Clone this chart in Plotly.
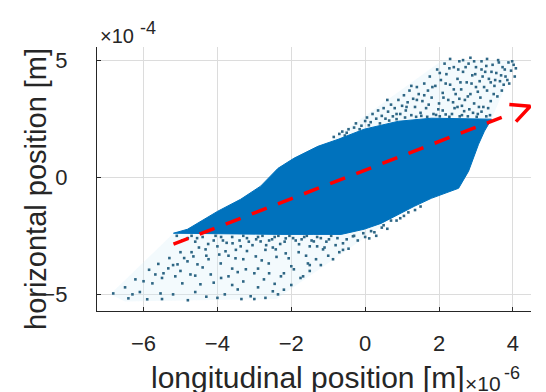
import math
import plotly.graph_objects as go

# Axis units: longitudinal in 1e-6 m, horizontal in 1e-4 m
x_range = [-7.26, 4.49]
y_range = [-5.71, 5.56]
x_ticks = [-6, -4, -2, 0, 2, 4]
y_ticks = [-5, 0, 5]

# Outline of the dense particle core
core_x = [-5.19, -4.81, -3.99, -3.37, -2.83, -2.36, -1.93, -1.28, -0.73, -0.03,
          0.90, 1.79, 3.42, 3.23, 3.07, 2.93, 2.80, 2.53, 1.79, 1.33, 0.90,
          0.43, -0.03, -0.65, -1.39, -2.28, -5.19]
core_y = [-2.39, -2.22, -1.45, -0.94, -0.38, 0.38, 0.81, 1.32, 1.62, 2.05,
          2.39, 2.52, 2.48, 1.97, 1.41, 0.81, 0.26, -0.47, -0.90, -1.24, -1.58,
          -1.97, -2.22, -2.44, -2.44, -2.44, -2.39]

# Halo regions around the sparse tails
halo_up_x = [-0.9, 2.1, 4.1, 3.42, 1.79, 0.90, -0.03, -0.73, -0.9]
halo_up_y = [1.6, 5.0, 5.0, 2.48, 2.52, 2.39, 2.05, 1.62, 1.6]
halo_lo_x = [-5.19, -6.9, -6.5, -2.4, 0.7, 1.8, -0.03, -5.19]
halo_lo_y = [-2.39, -5.0, -5.3, -5.2, -1.8, -0.9, -2.22, -2.39]

# Sparse particles above the core
tail_up_x = [-0.85, -0.7, -0.62, -0.5, -0.45, -0.3, -0.25, -0.1, 0.0, 0.05, 0.15, 0.2,
             0.3, 0.35, 0.45, 0.5, 0.55, 0.62, 0.7, 0.75, 0.8, 0.9, 0.95, 1.0, 1.05,
             1.1, 1.15, 1.2, 1.25, 1.3, 1.35, 1.4, 1.45, 1.5, 1.55, 1.6, 1.65, 1.7,
             1.75, 1.8, 1.85, 1.9, 1.95, 2.0, 2.05, 2.1, 2.1, 2.15, 2.2, 2.25, 2.3,
             2.35, 2.4, 2.45, 2.5, 2.5, 2.55, 2.6, 2.62, 2.65, 2.7, 2.75, 2.8, 2.82,
             2.85, 2.9, 2.95, 3.0, 3.0, 3.05, 3.1, 3.12, 3.15, 3.2, 3.25, 3.3, 3.35,
             3.38, 3.4, 3.45, 3.5, 3.55, 3.58, 3.6, 3.65, 3.7, 3.72, 3.8, 3.75, 3.88,
             3.9, 3.95, 4.02, 4.05, 2.3, 2.85, 1.25, 0.6, 3.3,
             1.52, 1.68, 1.92, 2.02, 2.18, 2.28, 2.42, 2.56, 2.68, 2.78, 2.92, 3.02,
             3.15, 3.28, 3.33, 3.08, 2.55, 2.38, 1.98, 1.72, 1.38, 1.08, 0.85, 0.65,
             0.4, 0.1, -0.15, -0.55, 1.82, 2.02, 2.18, 2.28, 2.4, 2.52, 2.58, 2.72,
             2.78, 2.88, 2.98, 3.05, 3.18, 3.22, 3.28, 3.42, 3.48, 3.52, 3.62, 3.68,
             3.78, 3.85, 3.98, 4.08, 2.65, 2.95, 3.15, 3.4, 1.6, 1.4, 1.12, 0.85,
             2.12, 2.62]
tail_up_y = [1.72, 1.85, 1.95, 1.9, 2.05, 2.12, 2.3, 2.2, 2.4, 2.55, 2.35, 2.7,
             2.5, 2.85, 2.62, 2.95, 2.5, 2.8, 3.1, 2.6, 2.95, 3.3, 2.7, 3.05, 3.5,
             2.85, 3.2, 3.7, 2.65, 3.35, 3.0, 3.85, 3.55, 2.75, 3.25, 4.0, 2.95, 3.7,
             4.3, 3.4, 2.7, 3.9, 4.6, 3.15, 4.15, 2.85, 3.6, 4.85, 4.4, 3.3, 3.95,
             2.7, 4.7, 3.55, 4.2, 3.0, 4.95, 3.75, 2.65, 4.5, 3.3, 4.05, 4.85, 2.9,
             3.55, 4.35, 3.15, 4.7, 3.85, 2.7, 4.1, 3.4, 4.95, 3.0, 4.5, 3.7, 4.2,
             2.65, 3.25, 4.8, 3.9, 4.45, 3.45, 5.0, 4.1, 3.7, 4.7, 4.3, 3.95, 4.9,
             4.0, 4.55, 4.8, 4.3, 5.05, 5.1, 3.9, 3.3, 5.05,
             2.62, 2.58, 2.66, 2.6, 2.68, 2.58, 2.95, 2.6, 2.82, 2.6, 2.75, 2.58,
             2.8, 2.6, 2.95, 3.0, 3.35, 3.2, 2.9, 3.1, 2.58, 2.55, 2.48, 2.42,
             2.3, 2.22, 2.05, 1.78, 3.85, 4.45, 4.0, 4.65, 3.75, 4.6, 4.05, 4.7,
             3.45, 4.0, 4.4, 3.65, 4.3, 3.85, 4.75, 4.5, 3.55, 4.15, 4.9, 4.35,
             4.6, 4.15, 4.95, 4.65, 5.0, 4.95, 4.6, 4.05, 3.5, 3.3, 3.0, 2.7,
             3.4, 3.05]

# Sparse particles below the core
tail_lo_x = [-6.82, -6.41, -6.22, -6.0, -5.9, -5.76, -5.68, -5.54, -5.46, -5.33,
             -5.14, -5.08, -4.95, -4.81, -4.73, -4.65, -4.54, -4.46, -4.32, -4.24,
             -4.18, -4.0, -3.91, -3.78, -3.7, -3.59, -3.51, -3.45, -3.37, -3.23,
             -3.1, -2.96, -2.83, -2.74, -2.61, -2.5, -2.42, -2.36, -2.28, -2.15,
             -2.07, -1.93, -1.79, -1.68, -1.55, -1.39, -1.33, -1.14, -0.98, -0.87,
             -0.6, -0.33, -0.05, 0.11, 0.16, 0.45, 0.7, 0.95, 1.17, 1.5, 0.3, 0.6,
             -0.2, -0.45, -0.7, -1.0, -1.2, -1.5, -1.75, -2.0, -2.2, -4.8, -4.6,
             -4.4, -4.1, -3.9, -3.75, -3.2, -3.05, -2.9, -2.6, -2.45, -2.3, -1.95,
             -1.65, -1.5, -1.2, -0.8, -2.7, -3.5, -4.5, -5.0, -5.3, -3.3, -2.4,
             -1.8, -1.1, -3.95, -4.4, -3.6, -3.0, -2.6, -2.0, -5.0, -4.1, -3.3,
             -2.9, -3.8, -4.3, -5.2, -4.8, -3.0, -6.5, -6.1, -5.85, -5.6, -4.9,
             -5.1, -4.95, -4.7, -4.55, -4.25, -4.05, -3.85, -3.6, -3.4, -3.3, -3.15,
             -2.95, -2.78, -2.68, -2.52, -2.35, -2.18, -2.05, -1.88, -1.72, -1.58,
             -1.45, -1.3, -1.05, -0.92, -0.75, -0.5, -0.3, 0.0, 0.25, 0.5, 0.85,
             1.05, 1.35, -4.7, -4.3, -3.7, -3.2, -2.8, -2.5, -2.15, -1.6, -1.3,
             -2.9, -3.45, -3.9, -4.6, -5.2, -5.5, -2.2, -2.45, -3.6, -4.6, -5.5,
             -6.3, -2.7, -3.35, -4.0, -1.5, -0.6]
tail_lo_y = [-4.96, -5.17, -4.36, -4.44, -5.21, -4.53, -4.15, -4.96, -4.1, -3.89,
             -4.23, -3.72, -4.53, -3.59, -4.15, -3.38, -3.72, -4.57, -3.08, -3.5,
             -4.15, -2.95, -3.68, -3.16, -4.23, -2.82, -3.46, -4.79, -2.95, -3.93,
             -5.08, -3.38, -2.74, -4.36, -3.68, -4.87, -3.08, -5.0, -4.23, -2.61,
             -3.46, -3.93, -2.86, -4.23, -3.68, -2.74, -3.5, -3.08, -2.65, -3.5,
             -2.82, -2.52, -2.39, -2.61, -2.3, -2.15, -1.85, -1.75, -1.5, -1.25,
             -2.5, -2.2, -2.7, -3.05, -3.2, -3.35, -3.75, -4.0, -4.3, -4.6, -4.8,
             -2.6, -2.75, -2.55, -2.7, -2.55, -2.8, -2.6, -2.9, -2.55, -2.7, -2.55,
             -2.85, -2.6, -2.55, -2.95, -2.6, -2.9, -3.1, -3.1, -3.0, -3.2, -3.45,
             -3.5, -3.4, -3.2, -3.0, -3.3, -3.85, -3.9, -4.1, -4.1, -3.8, -4.0,
             -4.5, -4.45, -4.7, -5.0, -5.1, -5.0, -5.25, -5.2, -4.7, -4.9, -3.95,
             -3.7, -3.45,
             -2.5, -2.7, -2.5, -2.6, -2.85, -2.5, -2.7, -2.55, -2.7, -2.5, -2.75,
             -2.65, -2.5, -2.9, -2.65, -2.5, -2.75, -2.5, -2.7, -2.65, -2.5,
             -2.7, -2.55, -2.75, -2.5, -2.6, -2.65, -2.5, -2.55, -2.35, -2.05, -1.85,
             -1.65, -1.4, -3.2, -3.35, -3.35, -3.15, -3.55, -3.0, -3.25, -3.35, -2.95,
             -3.9, -4.05, -4.3, -4.2, -3.75, -4.3, -4.1, -4.55, -4.6, -4.9, -5.2,
             -5.0, -5.15, -5.2, -5.15, -3.75, -3.1]

# Trend arrow (tail -> tip)
arrow_x = [-5.19, 4.47]
arrow_y = [-2.86, 3.03]

PLOT_W, PLOT_H = 434, 264
ML, MR, MT, MB = 97, 15, 47, 81

CORE = "#0072BD"
DOT = "#2e6684"
RED = "#ff0000"
INK = "#262626"
FONT = "Liberation Sans, Arial, sans-serif"

fig = go.Figure()

for hx, hy in ((halo_up_x, halo_up_y), (halo_lo_x, halo_lo_y)):
    fig.add_trace(go.Scatter(x=hx, y=hy, mode="lines", fill="toself",
                             fillcolor="rgba(215,240,250,0.3)",
                             line=dict(width=0), hoverinfo="skip"))

fig.add_trace(go.Scatter(x=tail_up_x + tail_lo_x, y=tail_up_y + tail_lo_y,
                         mode="markers",
                         marker=dict(symbol="square", size=2.6, color=DOT,
                                     line=dict(width=0))))

fig.add_trace(go.Scatter(x=core_x, y=core_y, mode="lines", fill="toself",
                         fillcolor=CORE, line=dict(color=CORE, width=1)))

# dashed shaft stops short of the open arrow head
frac = 0.92
shaft_x = [arrow_x[0], arrow_x[0] + frac * (arrow_x[1] - arrow_x[0])]
shaft_y = [arrow_y[0], arrow_y[0] + frac * (arrow_y[1] - arrow_y[0])]
fig.add_trace(go.Scatter(x=shaft_x, y=shaft_y, mode="lines", cliponaxis=False,
                         line=dict(color=RED, width=3.5, dash="16px,12px")))

# open arrow head: two arms built in screen pixels, mapped back to data units
sx = PLOT_W / (x_range[1] - x_range[0])
sy = PLOT_H / (y_range[1] - y_range[0])
dxp = (arrow_x[1] - arrow_x[0]) * sx
dyp = (arrow_y[1] - arrow_y[0]) * sy
ang = math.atan2(dyp, dxp)
arm_len, arm_spread = 21.0, math.radians(26)
head_x, head_y = [], []
for k, sgn in enumerate((1, 0, -1)):
    if sgn == 0:
        head_x.append(arrow_x[1])
        head_y.append(arrow_y[1])
        continue
    a = ang + math.pi + sgn * arm_spread
    head_x.append(arrow_x[1] + arm_len * math.cos(a) / sx)
    head_y.append(arrow_y[1] + arm_len * math.sin(a) / sy)
fig.add_trace(go.Scatter(x=head_x, y=head_y, mode="lines", cliponaxis=False,
                         line=dict(color=RED, width=3.5)))


def px_x(p):
    return (p - ML) / PLOT_W


def px_y(p):
    return ((MT + PLOT_H) - p) / PLOT_H


annotations = [
    dict(x=px_x(36), y=px_y(189), xref="paper", yref="paper",
         text="horizontal position [m]", textangle=-90, showarrow=False,
         xanchor="center", yanchor="middle",
         font=dict(family=FONT, size=29, color=INK)),
    dict(x=px_x(308), y=px_y(377), xref="paper", yref="paper",
         text="longitudinal position [m]", showarrow=False,
         xanchor="center", yanchor="middle",
         font=dict(family=FONT, size=30, color=INK)),
    # axis exponent labels
    dict(x=px_x(98), y=px_y(36), xref="paper", yref="paper",
         text="\u00d710", showarrow=False, xanchor="left", yanchor="middle",
         font=dict(family=FONT, size=20, color=INK)),
    dict(x=px_x(138), y=px_y(28), xref="paper", yref="paper",
         text="-4", showarrow=False, xanchor="left", yanchor="middle",
         font=dict(family=FONT, size=18, color=INK)),
    dict(x=px_x(503), y=px_y(384), xref="paper", yref="paper",
         text="\u00d710", showarrow=False, xanchor="right", yanchor="middle",
         font=dict(family=FONT, size=21, color=INK)),
    dict(x=px_x(502), y=px_y(373), xref="paper", yref="paper",
         text="-6", showarrow=False, xanchor="left", yanchor="middle",
         font=dict(family=FONT, size=18, color=INK)),
]

axis_common = dict(showline=True, linecolor=INK, linewidth=1.3, mirror=False,
                   showgrid=True, gridcolor="#dcdcdc", gridwidth=1,
                   zeroline=False, ticks="inside", ticklen=4, tickcolor=INK,
                   tickfont=dict(family=FONT, size=22, color=INK),
                   fixedrange=True)

fig.update_layout(
    width=546, height=392,
    margin=dict(l=ML, r=MR, t=MT, b=MB),
    paper_bgcolor="white", plot_bgcolor="white",
    showlegend=False,
    annotations=annotations,
    xaxis=dict(range=x_range, tickvals=x_ticks, ticklabelstandoff=12,
               **axis_common),
    yaxis=dict(range=y_range, tickvals=y_ticks, ticklabelstandoff=24,
               **axis_common),
)

fig.write_html("out.html")
